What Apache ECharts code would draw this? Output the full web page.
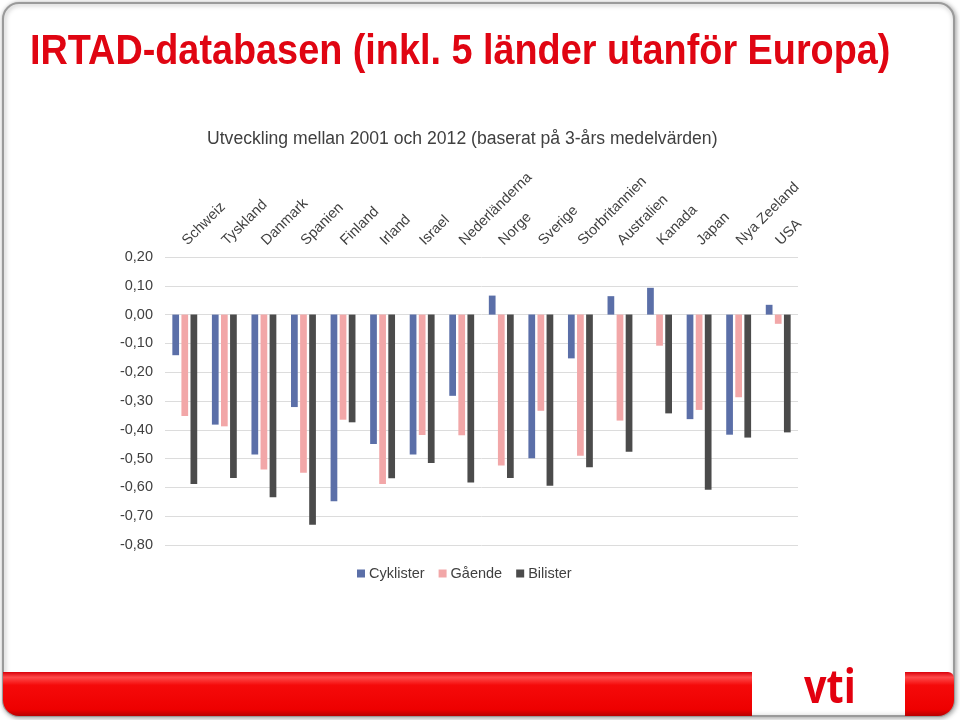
<!DOCTYPE html>
<html><head><meta charset="utf-8">
<script src="https://cdn.jsdelivr.net/npm/echarts@6/dist/echarts.min.js"></script>
<style>html,body{margin:0;padding:0;background:#fff}#c{width:960px;height:720px}</style>
</head><body><div id="c"></div>
<script>
const categories = ['Schweiz','Tyskland','Danmark','Spanien','Finland','Irland','Israel','Nederländerna','Norge','Sverige','Storbritannien','Australien','Kanada','Japan','Nya Zeeland','USA'];
const cyklister = [-0.141,-0.382,-0.486,-0.321,-0.648,-0.449,-0.486,-0.282,0.066,-0.499,-0.152,0.064,0.093,-0.363,-0.417,0.034];
const gaende    = [-0.352,-0.388,-0.538,-0.549,-0.365,-0.588,-0.418,-0.419,-0.524,-0.334,-0.490,-0.368,-0.108,-0.331,-0.287,-0.032];
const bilister  = [-0.588,-0.567,-0.634,-0.730,-0.374,-0.568,-0.515,-0.583,-0.567,-0.594,-0.530,-0.476,-0.343,-0.608,-0.427,-0.409];
const yTicks = { min: -0.8, max: 0.2, interval: 0.1 };

const chart = echarts.init(document.getElementById('c'), null, {renderer:'canvas'});
const redGrad = new echarts.graphic.LinearGradient(0,0,0,1,[
  {offset:0,color:'#d9000a'},{offset:0.12,color:'#ff4a4a'},{offset:0.3,color:'#f50a0a'},{offset:0.85,color:'#ee0000'},{offset:1,color:'#b80000'}]);
const txt = '#404040';
const ff = 'Liberation Sans, Arial, sans-serif';
chart.setOption({
  animation:false,
  backgroundColor:'#ffffff',
  graphic:[
    {type:'rect',z:-10,shape:{x:3,y:3,width:951,height:713,r:16},style:{fill:'#fff',stroke:'#9a9a9a',lineWidth:2,shadowBlur:5,shadowColor:'rgba(0,0,0,0.35)',shadowOffsetX:1,shadowOffsetY:1}},
    {type:'rect',z:-9,shape:{x:3,y:672,width:749,height:44,r:[0,0,0,16]},style:{fill:redGrad}},
    {type:'rect',z:-9,shape:{x:905,y:672,width:49,height:44,r:[0,6,16,0]},style:{fill:redGrad}},
    {type:'text',x:30,y:31,scaleX:0.9,style:{x:0,y:0,text:'IRTAD-databasen (inkl. 5 länder utanför Europa)',fill:'#e00512',font:'bold 42px "Liberation Sans", Arial, sans-serif'}},
    {type:'text',x:804,y:667,scaleX:0.86,style:{x:0,y:0,text:'vti',fill:'#e3000f',font:'bold 46px "Open Sans", "DejaVu Sans", sans-serif'}},
    {type:'text',x:207,y:130,style:{x:0,y:0,text:'Utveckling mellan 2001 och 2012 (baserat på 3-års medelvärden)',fill:txt,font:'17.6px "Liberation Sans", Arial, sans-serif'}}
  ],
  legend:{bottom:134,left:352,itemWidth:8,itemHeight:8,itemGap:14,icon:'rect',
    textStyle:{color:txt,fontSize:14.5,fontFamily:ff,padding:[0,0,0,-1]},
    data:['Cyklister','Gående','Bilister']},
  grid:{left:165,right:162,top:257,bottom:175,containLabel:false},
  xAxis:{type:'category',position:'top',data:categories,
    axisLine:{show:false},axisTick:{show:false},
    axisLabel:{rotate:45,interval:0,margin:14,color:txt,fontSize:14.5,fontFamily:ff}},
  yAxis:{type:'value',min:yTicks.min,max:yTicks.max,interval:yTicks.interval,
    axisLine:{show:false},axisTick:{show:false},
    splitLine:{lineStyle:{color:'#dcdcdc',width:1}},
    axisLabel:{margin:12,color:txt,fontSize:14.5,fontFamily:ff,
      formatter:v=>v.toFixed(2).replace('.',',')}},
  series:[
    {name:'Cyklister',type:'bar',data:cyklister,barWidth:'17%',barGap:'35%',itemStyle:{color:'#5b6fa8'}},
    {name:'Gående',type:'bar',data:gaende,barWidth:'17%',barGap:'35%',itemStyle:{color:'#f2a7a8'}},
    {name:'Bilister',type:'bar',data:bilister,barWidth:'17%',barGap:'35%',itemStyle:{color:'#4b4b4b'}}
  ]
});
</script></body></html>
